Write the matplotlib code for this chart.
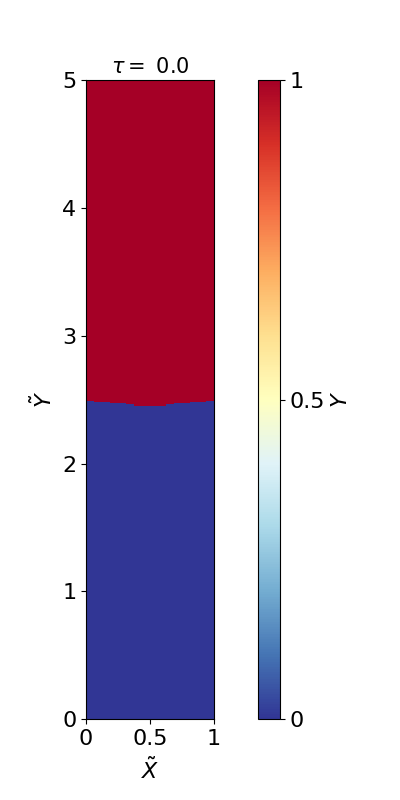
import numpy as np
import matplotlib
matplotlib.use("Agg")
import matplotlib.pyplot as plt

# interface height (Y-tilde) per column
col_edges = np.linspace(0.0, 1.0, 17)
interface = [2.496, 2.488, 2.488, 2.480, 2.473, 2.465, 2.457, 2.457,
             2.457, 2.457, 2.465, 2.473, 2.480, 2.488, 2.488, 2.496]
y_edges = np.linspace(0.0, 5.0, 641)
tau = 0.0

# field: 1 above the interface, 0 below
yc = 0.5 * (y_edges[:-1] + y_edges[1:])
field = (yc[:, None] > np.array(interface)[None, :]).astype(float)

fig = plt.figure(figsize=(4, 8), dpi=100)
ax = fig.add_axes([0.215, 0.101, 0.32, 0.799])
cax = fig.add_axes([0.645, 0.101, 0.055, 0.799])

mesh = ax.pcolormesh(col_edges, y_edges, field, cmap='RdYlBu_r',
                     vmin=0, vmax=1, shading='flat')
ax.set_xlim(0, 1)
ax.set_ylim(0, 5)
ax.set_xticks([0, 0.5, 1])
ax.set_xticklabels(['0', '0.5', '1'])
ax.set_yticks([0, 1, 2, 3, 4, 5])
ax.tick_params(labelsize=16)
ax.set_xlabel(r'$\tilde{X}$', fontsize=16, labelpad=6)
ax.set_ylabel(r'$\tilde{Y}$', fontsize=16)
ax.set_title(r'$\tau = $ ' + f'{tau:.1f}', fontsize=15, pad=5)

cb = fig.colorbar(mesh, cax=cax, ticks=[0, 0.5, 1])
cb.ax.set_yticklabels(['0', '0.5', '1'])
cb.ax.tick_params(labelsize=16)
cb.set_label(r'$Y$', fontsize=16, labelpad=4)

fig.savefig('out.png', dpi=100)
